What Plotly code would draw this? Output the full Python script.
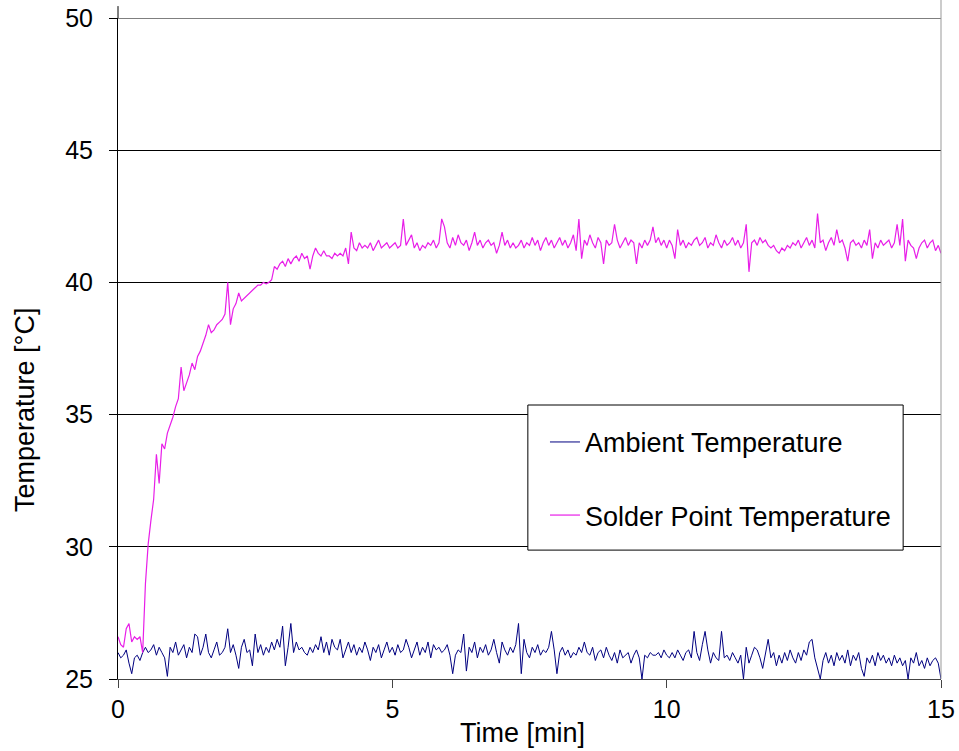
import plotly.graph_objects as go

# ---------------- data ----------------
SAMPLE_STEP_MIN = 0.05
N_SAMPLES = 301
time_min = [round(i * SAMPLE_STEP_MIN, 2) for i in range(N_SAMPLES)]

ambient_temp = [
    # 0-1 min
    26.0, 25.8, 25.9, 26.1, 25.6, 25.2, 25.8, 25.9, 25.7, 26.0, 26.2, 26.0, 26.1, 26.3, 25.9, 26.2, 26.0, 25.8, 25.1, 26.2,
    # 1-2
    26.0, 26.4, 25.9, 26.1, 26.3, 25.8, 26.2, 26.0, 26.7, 26.6, 25.9, 26.2, 26.7, 26.0, 25.8, 26.1, 26.4, 25.9, 26.0, 26.2,
    # 2-3
    26.9, 26.0, 26.3, 25.9, 25.4, 26.2, 26.5, 26.0, 26.1, 25.5, 26.7, 26.0, 26.3, 25.9, 26.2, 26.0, 26.4, 26.1, 26.5, 26.2,
    # 3-4
    27.0, 25.5, 26.2, 27.1, 26.0, 26.4, 26.1, 26.2, 26.0, 25.9, 26.2, 26.0, 26.3, 26.1, 26.6, 26.0, 26.4, 25.9, 26.5, 26.2,
    # 4-5
    26.1, 26.5, 25.8, 26.1, 26.4, 26.0, 26.3, 25.9, 26.2, 26.0, 26.4, 26.1, 25.7, 26.2, 26.0, 26.3, 25.8, 26.1, 26.4, 26.0,
    # 5-6
    26.2, 25.9, 26.3, 26.0, 26.1, 26.5, 26.2, 25.8, 26.1, 26.4, 25.9, 26.2, 26.0, 26.4, 25.8, 26.3, 26.1, 26.2, 26.0, 26.1,
    # 6-7
    26.3, 25.9, 25.2, 25.9, 26.1, 26.0, 26.7, 25.3, 26.2, 26.0, 26.4, 25.8, 26.2, 26.0, 26.3, 25.9, 26.1, 26.5, 26.0, 25.6,
    # 7-8
    26.4, 26.1, 25.9, 26.2, 26.0, 26.3, 27.1, 25.2, 26.5, 26.0, 25.8, 26.2, 26.0, 26.3, 25.9, 26.1, 26.0, 26.2, 26.8, 26.1,
    # 8-9
    25.2, 26.0, 26.2, 25.9, 26.1, 25.8, 26.0, 25.9, 26.2, 26.0, 26.4, 26.0, 25.9, 26.2, 25.7, 26.0, 26.1, 25.8, 26.2, 25.9,
    # 9-10
    25.7, 26.0, 25.6, 26.1, 25.8, 25.9, 26.0, 25.6, 25.9, 26.1, 25.8, 25.0, 25.9, 25.8, 26.0, 25.9, 25.9, 26.0, 25.8, 26.1,
    # 10-11
    25.9, 25.8, 26.0, 25.8, 26.1, 25.9, 25.7, 26.0, 26.1, 25.8, 26.8, 26.0, 25.7, 26.3, 26.8, 26.1, 25.6, 26.0, 25.8, 25.7,
    # 11-12
    26.8, 25.8, 25.9, 25.7, 26.0, 25.8, 25.6, 25.9, 25.0, 26.2, 25.6, 25.9, 26.2, 26.1, 25.8, 25.4, 25.9, 26.5, 25.8, 26.0,
    # 12-13
    25.5, 25.9, 25.6, 26.0, 25.7, 26.1, 25.8, 25.6, 26.0, 25.7, 26.1, 25.9, 26.4, 26.5, 25.8, 25.4, 25.0, 25.7, 26.0, 25.6,
    # 13-14
    25.9, 25.5, 26.0, 25.7, 25.9, 25.6, 26.1, 25.5, 25.9, 25.7, 26.0, 25.4, 25.1, 25.8, 25.6, 25.9, 25.5, 26.0, 25.7, 25.9,
    # 14-15
    25.6, 25.8, 25.5, 25.9, 25.6, 25.8, 25.5, 25.7, 25.0, 25.8, 25.6, 26.0, 25.5, 25.7, 25.4, 25.8, 25.5, 25.7, 25.8, 25.6,
    25.0,
]

solder_temp = [
    # 0-1 min
    26.6, 26.3, 26.2, 26.9, 27.1, 26.4, 26.6, 26.5, 26.6, 26.0, 28.6, 30.1, 31.0, 31.8, 33.5, 32.4, 33.9, 33.7, 34.3, 34.6,
    # 1-2
    34.9, 35.3, 35.6, 36.8, 35.9, 36.2, 36.5, 36.95, 36.7, 37.2, 37.4, 37.7, 38.0, 38.4, 38.1, 38.2, 38.4, 38.5, 38.6, 38.8,
    # 2-3
    40.0, 38.4, 39.0, 39.2, 39.6, 39.3, 39.4, 39.5, 39.6, 39.7, 39.8, 39.9, 39.9, 40.0, 39.95, 40.0, 40.1, 40.6, 40.5, 40.7,
    # 3-4
    40.8, 40.6, 40.9, 40.7, 40.9, 41.0, 40.8, 41.1, 40.9, 41.0, 40.5, 41.0, 41.3, 41.1, 41.0, 41.2, 41.0, 41.0, 40.9, 41.1,
    # 4-5
    41.0, 41.1, 41.0, 41.3, 40.7, 41.9, 41.3, 41.2, 41.5, 41.3, 41.4, 41.3, 41.5, 41.2, 41.4, 41.6, 41.3, 41.4, 41.5, 41.3,
    # 5-6
    41.4, 41.5, 41.3, 41.4, 42.4, 41.4, 41.6, 41.8, 41.3, 41.5, 41.2, 41.4, 41.3, 41.5, 41.4, 41.6, 41.3, 41.5, 42.4, 42.1,
    # 6-7
    41.5, 41.3, 41.7, 41.4, 41.8, 41.5, 41.4, 41.6, 41.2, 41.5, 41.9, 41.4, 41.6, 41.3, 41.5, 41.6, 41.4, 41.5, 41.1, 41.4,
    # 7-8
    41.9, 41.4, 41.6, 41.3, 41.5, 41.3, 41.4, 41.6, 41.3, 41.5, 41.4, 41.7, 41.4, 41.6, 41.2, 41.5, 41.7, 41.4, 41.6, 41.3,
    # 8-9
    41.5, 41.7, 41.4, 41.6, 41.3, 41.5, 41.8, 41.2, 42.4, 40.9, 41.6, 41.4, 41.8, 41.5, 41.3, 41.7, 41.5, 40.7, 41.6, 41.4,
    # 9-10
    41.5, 42.2, 41.6, 41.3, 41.5, 41.7, 41.4, 41.6, 41.5, 40.7, 41.5, 41.3, 41.6, 41.4, 41.6, 42.1, 41.5, 41.7, 41.4, 41.6,
    # 10-11
    41.3, 41.6, 41.4, 40.9, 42.0, 41.4, 41.6, 41.3, 41.5, 41.4, 41.6, 41.7, 41.4, 41.5, 41.7, 41.3, 41.5, 41.4, 41.8, 41.5,
    # 11-12
    41.3, 41.6, 41.4, 41.5, 41.7, 41.4, 41.6, 41.3, 41.5, 42.2, 40.4, 41.5, 41.6, 41.4, 41.7, 41.5, 41.6, 41.4, 41.3, 41.4,
    # 12-13
    41.2, 41.1, 41.3, 41.2, 41.4, 41.3, 41.5, 41.4, 41.6, 41.3, 41.5, 41.7, 41.4, 41.6, 41.3, 42.6, 41.5, 41.6, 41.2, 41.5,
    # 13-14
    41.7, 41.4, 42.0, 41.5, 41.6, 41.3, 40.8, 41.5, 41.6, 41.4, 41.5, 41.3, 41.6, 41.4, 42.0, 40.9, 41.5, 41.3, 41.6, 41.4,
    # 14-15
    41.5, 41.6, 41.3, 41.5, 42.2, 41.4, 42.4, 40.8, 41.6, 41.4, 41.3, 40.9, 41.3, 41.5, 41.6, 41.3, 41.5, 41.6, 41.2, 41.4,
    41.1,
]

x_ticks = [0, 5, 10, 15]
y_ticks = [25, 30, 35, 40, 45, 50]
series_names = ["Ambient Temperature", "Solder Point Temperature"]
series_colors = ["#000080", "#e81ee8"]

FONT = "Liberation Sans, Arial, Helvetica, sans-serif"

fig = go.Figure()
fig.add_trace(go.Scatter(x=time_min, y=ambient_temp, mode="lines", name=series_names[0],
                         line=dict(color=series_colors[0], width=1), legendgroup="a"))
fig.add_trace(go.Scatter(x=time_min, y=solder_temp, mode="lines", name=series_names[1],
                         line=dict(color=series_colors[1], width=1.2), legendgroup="b"))

fig.update_layout(
    template="none",
    width=959, height=751,
    margin=dict(l=118, r=18, t=18, b=72, autoexpand=False),
    paper_bgcolor="white", plot_bgcolor="white",
    font=dict(family=FONT, size=25, color="black"),
    showlegend=True,
    legend=dict(x=0.5188, y=0.395, xanchor="left", yanchor="top",
                bgcolor="rgba(0,0,0,0)", borderwidth=0,
                font=dict(size=27), traceorder="grouped", tracegroupgap=35,
                itemwidth=30),
    xaxis=dict(range=[0, 15], tickvals=x_ticks, showgrid=False, zeroline=False,
               automargin=False, ticklabeloverflow="allow",
               showline=True, linecolor="#444", linewidth=1,
               ticks="outside", ticklen=8, tickcolor="#444",
               tickfont=dict(size=25), ticklabelstandoff=0),
    yaxis=dict(range=[25, 50], tickvals=y_ticks, showgrid=True, gridcolor="black", gridwidth=1,
               automargin=False, ticklabeloverflow="allow",
               zeroline=False, showline=True, linecolor="black", linewidth=1,
               ticks="outside", ticklen=8, tickcolor="black",
               tickfont=dict(size=25), ticklabelstandoff=11),
    shapes=[
        dict(type="line", xref="paper", yref="y", x0=0, x1=1, y0=50, y1=50,
             line=dict(color="black", width=1)),
        dict(type="line", xref="paper", yref="paper", x0=1, x1=1, y0=0, y1=1.03,
             line=dict(color="#999", width=1)),
        dict(type="line", xref="paper", yref="paper", x0=0, x1=0, y0=1, y1=1.018,
             line=dict(color="black", width=1)),
        dict(type="rect", xref="paper", yref="paper", x0=0.498, x1=0.954, y0=0.195, y1=0.4145,
             line=dict(color="black", width=1), fillcolor="white", layer="above"),
    ],
    annotations=[
        dict(text="Time [min]", xref="paper", yref="paper", x=0.491, y=0, xanchor="center",
             yanchor="middle", yshift=-54, showarrow=False, font=dict(size=27)),
        dict(text="Temperature [°C]", xref="paper", yref="paper", x=0, y=0.407, xanchor="center",
             yanchor="middle", xshift=-93, textangle=-90, showarrow=False, font=dict(size=27)),
    ],
)

# remove the browser's default 8px body margin so the figure fills the window exactly
fig.write_html("out.html", config={"displayModeBar": False},
               post_script="document.body.style.margin='0px';")
